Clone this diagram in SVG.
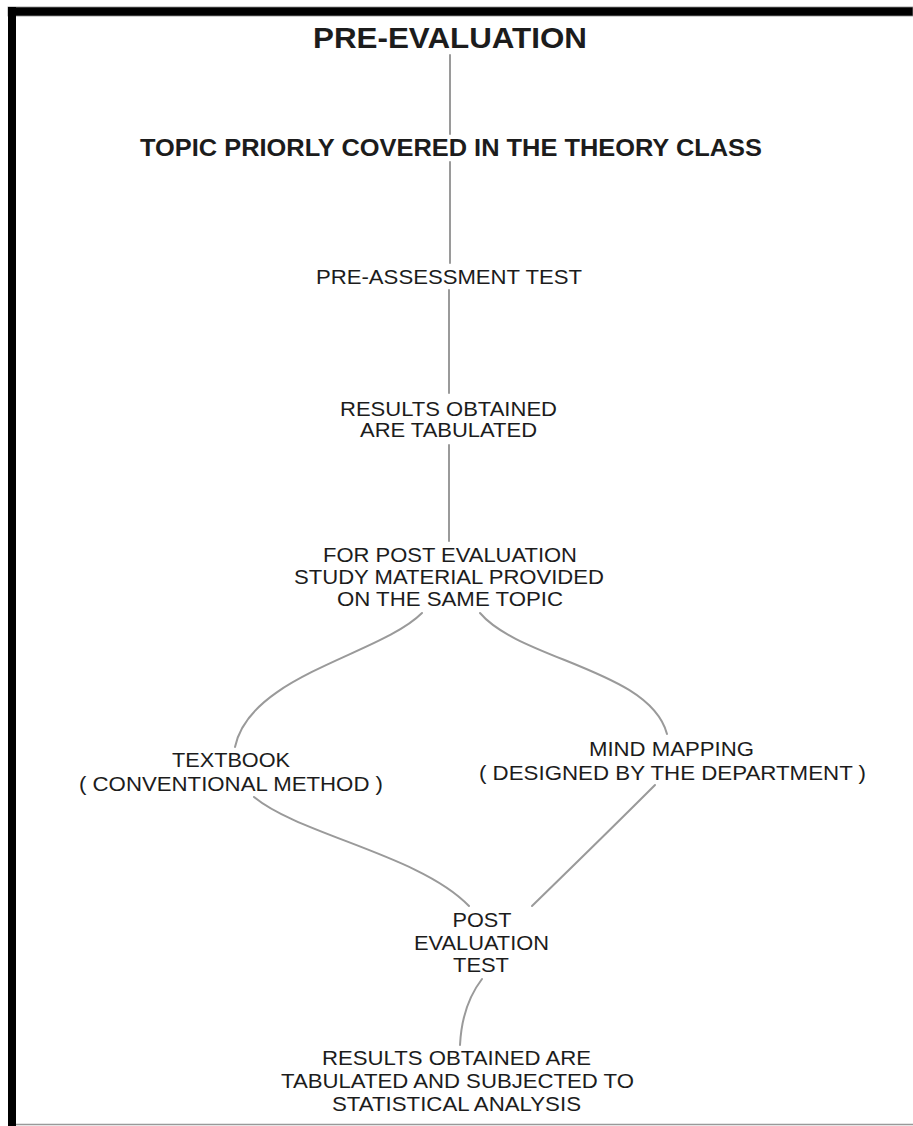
<svg xmlns="http://www.w3.org/2000/svg" width="913" height="1126" viewBox="0 0 913 1126">
<style>
text{font-family:"Liberation Sans",Arial,sans-serif;fill:#1c1c1c;text-anchor:middle;font-size:21px}
.b{font-weight:bold}
.c{fill:none;stroke:#9a9a9a;stroke-width:2;stroke-linecap:round}
</style>
<rect x="0" y="0" width="913" height="1126" fill="#fff"/>
<g id="frame">
<rect x="8" y="7" width="905" height="9" fill="#000" stroke="#8a8a8a" stroke-width="0.8"/>
<rect x="8" y="7" width="8" height="1119" fill="#000"/>
<line x1="16" y1="1124.5" x2="913" y2="1124.5" stroke="#999" stroke-width="1.5"/>
</g>
<g id="connectors">
<path class="c" d="M450,55 V134"/>
<path class="c" d="M450,162 V263"/>
<path class="c" d="M449,290 V393"/>
<path class="c" d="M449,445 V541"/>
<path class="c" d="M422,613 C380,655 250,675 235,747"/>
<path class="c" d="M480,613 C520,660 650,670 667,734"/>
<path class="c" d="M254,797 C300,835 420,855 469,906"/>
<path class="c" d="M655,785 Q610,830 532,906"/>
<path class="c" d="M482,979 Q462,1005 460,1045"/>
</g>
<g id="n-pre-evaluation"><text class="b" x="450" y="48" font-size="30" style="font-size:30px" textLength="274" lengthAdjust="spacingAndGlyphs">PRE-EVALUATION</text></g>
<g id="n-topic"><text class="b" x="451" y="156" style="font-size:23px" textLength="622" lengthAdjust="spacingAndGlyphs">TOPIC PRIORLY COVERED IN THE THEORY CLASS</text></g>
<g id="n-pre-assessment"><text x="449" y="284" textLength="266" lengthAdjust="spacingAndGlyphs">PRE-ASSESSMENT TEST</text></g>
<g id="n-results1">
<text x="448.5" y="416" textLength="217" lengthAdjust="spacingAndGlyphs">RESULTS OBTAINED</text>
<text x="448.5" y="437" textLength="177" lengthAdjust="spacingAndGlyphs">ARE TABULATED</text>
</g>
<g id="n-study">
<text x="450" y="562" textLength="254" lengthAdjust="spacingAndGlyphs">FOR POST EVALUATION</text>
<text x="449" y="584" textLength="310" lengthAdjust="spacingAndGlyphs">STUDY MATERIAL PROVIDED</text>
<text x="450" y="606" textLength="226" lengthAdjust="spacingAndGlyphs">ON THE SAME TOPIC</text>
</g>
<g id="n-textbook">
<text x="231" y="767" textLength="118" lengthAdjust="spacingAndGlyphs">TEXTBOOK</text>
<text x="231" y="791" textLength="304" lengthAdjust="spacingAndGlyphs">( CONVENTIONAL METHOD )</text>
</g>
<g id="n-mindmap">
<text x="671.5" y="756" textLength="165" lengthAdjust="spacingAndGlyphs">MIND MAPPING</text>
<text x="672.5" y="780" textLength="387" lengthAdjust="spacingAndGlyphs">( DESIGNED BY THE DEPARTMENT )</text>
</g>
<g id="n-post">
<text x="482" y="927" textLength="59" lengthAdjust="spacingAndGlyphs">POST</text>
<text x="481.5" y="950" textLength="135" lengthAdjust="spacingAndGlyphs">EVALUATION</text>
<text x="481" y="972" textLength="56" lengthAdjust="spacingAndGlyphs">TEST</text>
</g>
<g id="n-results2">
<text x="456.5" y="1065" textLength="269" lengthAdjust="spacingAndGlyphs">RESULTS OBTAINED ARE</text>
<text x="457.5" y="1088" textLength="353" lengthAdjust="spacingAndGlyphs">TABULATED AND SUBJECTED TO</text>
<text x="456.5" y="1111" textLength="249" lengthAdjust="spacingAndGlyphs">STATISTICAL ANALYSIS</text>
</g>
</svg>
